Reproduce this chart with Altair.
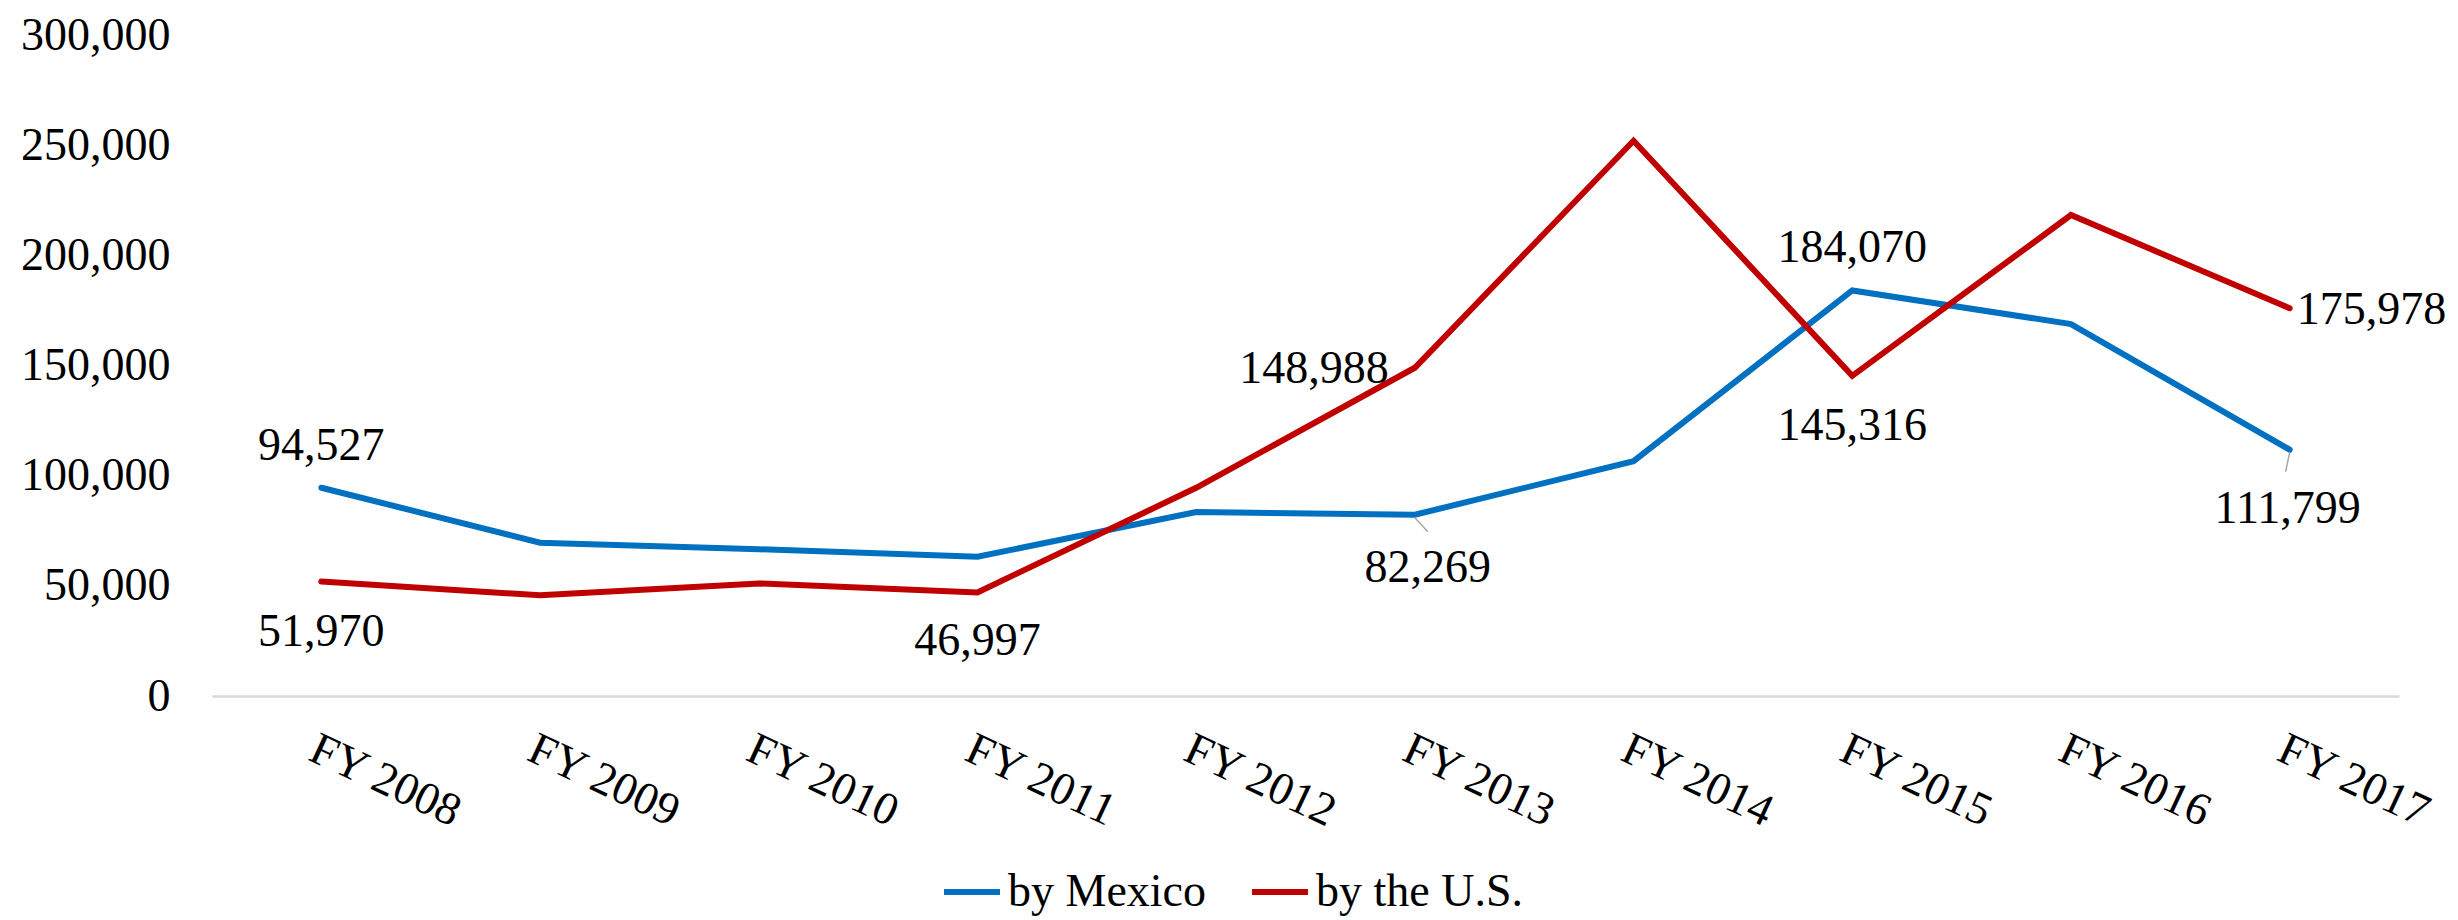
import altair as alt
import pandas as pd

years = ["FY 2008", "FY 2009", "FY 2010", "FY 2011", "FY 2012",
         "FY 2013", "FY 2014", "FY 2015", "FY 2016", "FY 2017"]
by_mexico = [94527, 69600, 66600, 63200, 83500, 82269, 106600, 184070, 168800, 111799]
by_us = [51970, 45700, 51100, 46997, 94500, 148988, 252000, 145316, 218300, 175978]
series_names = ["by Mexico", "by the U.S."]
series_colors = ["#0070C0", "#C00000"]
y_ticks = [0, 50000, 100000, 150000, 200000, 250000, 300000]

rows = []
for name, vals in zip(series_names, [by_mexico, by_us]):
    for yr, v in zip(years, vals):
        rows.append({"year": yr, "series": name, "value": v})
df = pd.DataFrame(rows)

FONT = "Liberation Serif"
FS = 46

x_enc = alt.X(
    "year:N", sort=years,
    scale=alt.Scale(type="point", padding=0.5),
    axis=alt.Axis(title=None, labelAngle=25, labelAlign="left", labelBaseline="top",
                  labelPadding=30, ticks=False, grid=False, domainColor="#D9D9D9",
                  domainWidth=2.5, labelFont=FONT, labelFontSize=FS, labelColor="black"),
)
y_enc = alt.Y(
    "value:Q",
    scale=alt.Scale(domain=[0, 300000], nice=False),
    axis=alt.Axis(title=None, values=y_ticks, format=",.0f", formatType="number",
                  domain=False, ticks=False, grid=False, labelPadding=42,
                  labelFont=FONT, labelFontSize=FS, labelColor="black"),
)

base = alt.Chart(df)

lines = base.mark_line(strokeWidth=6, strokeCap="round").encode(
    x=x_enc, y=y_enc,
    color=alt.Color("series:N",
                    scale=alt.Scale(domain=series_names, range=series_colors),
                    legend=alt.Legend(title=None, orient="none", legendX=729, legendY=826,
                                      direction="horizontal", symbolType="stroke",
                                      symbolSize=3136, symbolStrokeWidth=6,
                                      labelFont=FONT, labelFontSize=FS, labelColor="black",
                                      labelLimit=0, labelOffset=5, columnPadding=33,
                                      padding=0)),
    detail="series:N",
)


def pick(series, year):
    return (alt.datum.series == series) & (alt.datum.year == year)


def leader(series, year, dx2, dy2):
    return base.transform_filter(pick(series, year)).mark_rule(
        color="#A6A6A6", strokeWidth=1.5, yOffset=3, x2Offset=dx2, y2Offset=dy2
    ).encode(x=x_enc, y=y_enc, x2="year:N", y2="value:Q")


def label(series, year, **props):
    return base.transform_filter(pick(series, year)).mark_text(
        font=FONT, fontSize=FS, color="black", **props
    ).encode(x=x_enc, y=y_enc, text=alt.Text("value:Q", format=","))


layers = [
    lines,
    leader("by Mexico", "FY 2013", 13, 17),
    leader("by Mexico", "FY 2017", -4, 22),
    label("by Mexico", "FY 2008", align="center", baseline="alphabetic", dy=-28),
    label("by Mexico", "FY 2013", align="center", baseline="alphabetic", dx=13, dy=67),
    label("by Mexico", "FY 2015", align="center", baseline="alphabetic", dy=-28),
    label("by Mexico", "FY 2017", align="center", baseline="alphabetic", dx=-2, dy=73),
    label("by the U.S.", "FY 2008", align="center", baseline="alphabetic", dy=65),
    label("by the U.S.", "FY 2011", align="center", baseline="alphabetic", dy=63),
    label("by the U.S.", "FY 2013", align="right", baseline="middle", dx=-26, dy=1),
    label("by the U.S.", "FY 2015", align="center", baseline="alphabetic", dy=64),
    label("by the U.S.", "FY 2017", align="left", baseline="middle", dx=7, dy=2),
]

chart = alt.layer(*layers).properties(
    width=2187, height=661,
    padding={"left": 204, "top": 27, "right": 51, "bottom": 224},
    autosize=alt.AutoSizeParams(type="none"),
).configure_view(stroke=None)

chart.save("out.html", embed_options={"renderer": "svg", "actions": False})
